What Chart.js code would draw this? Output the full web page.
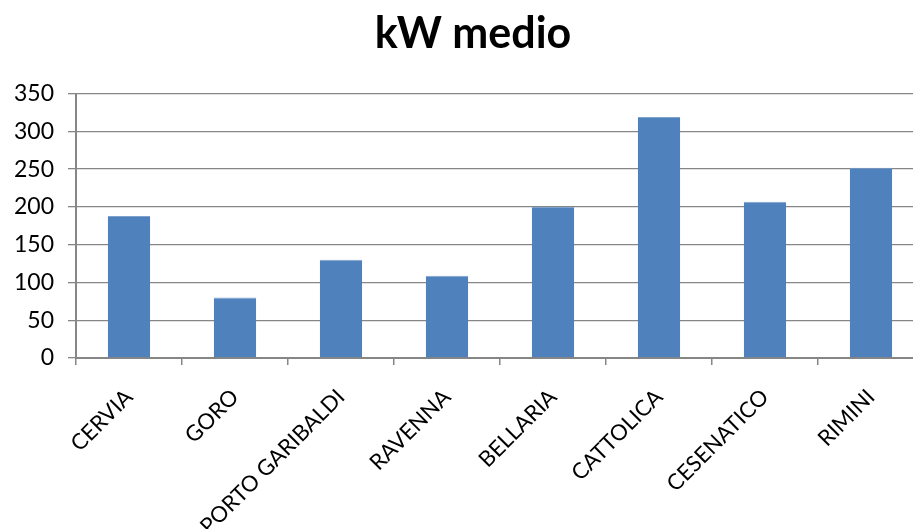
<!DOCTYPE html>
<html>
<head>
<meta charset="utf-8">
<title>kW medio</title>
<script src="https://cdn.jsdelivr.net/npm/chart.js@4.4.0/dist/chart.umd.min.js"></script>
<style>
    html, body { margin: 0; padding: 0; background: #fff; overflow: hidden; }
    #wrap { width: 926px; height: 529px; }
</style>
</head>
<body>
<div id="wrap"><canvas id="kwChart" width="926" height="529"></canvas></div>
<script>
// Mean kW per port
const ports = ['CERVIA', 'GORO', 'PORTO GARIBALDI', 'RAVENNA', 'BELLARIA', 'CATTOLICA', 'CESENATICO', 'RIMINI'];
const kwMedio = [188, 80, 130, 109, 200, 319, 207, 252];

const axisGrey = '#868686';
const barBlue = '#4F81BD';

// centre the title a little right of the canvas middle, over the plot
const titleShift = {
    id: 'titleShift',
    afterLayout(chart) {
        if (chart.titleBlock) chart.titleBlock.left += 22;
    }
};

const ctx = document.getElementById('kwChart').getContext('2d');
new Chart(ctx, {
    type: 'bar',
    data: {
        labels: ports,
        datasets: [{
            label: 'kW medio',
            data: kwMedio,
            backgroundColor: barBlue,
            borderColor: '#7fa2cf',
            borderWidth: { top: 1, left: 0, right: 0, bottom: 0 },
            categoryPercentage: 1,
            barPercentage: 0.4
        }]
    },
    options: {
        responsive: false,
        animation: false,
        layout: { padding: { left: 0, right: 2, top: 0, bottom: 0 } },
        plugins: {
            legend: { display: false },
            tooltip: { enabled: false },
            title: {
                display: true,
                text: 'kW medio',
                color: '#000',
                font: { family: 'Lato', size: 43, weight: 'bold' },
                padding: { top: 8, bottom: 34 }
            }
        },
        scales: {
            x: {
                offset: true,
                grid: {
                    offset: true,
                    drawOnChartArea: false,
                    drawTicks: true,
                    tickLength: 7,
                    color: axisGrey,
                    lineWidth: 1.5
                },
                border: { color: axisGrey, width: 2 },
                ticks: {
                    color: '#000',
                    font: { family: 'Lato', size: 22 },
                    minRotation: 45,
                    maxRotation: 45,
                    autoSkip: false,
                    padding: 19
                },
                afterFit(scale) { scale.height = 171; }
            },
            y: {
                min: 0,
                max: 350,
                ticks: {
                    stepSize: 50,
                    color: '#000',
                    font: { family: 'Lato', size: 23 },
                    padding: 14
                },
                grid: {
                    color: axisGrey,
                    lineWidth: 1.3,
                    tickLength: 8
                },
                border: { color: axisGrey, width: 2 },
                afterFit(scale) { scale.width = 76; }
            }
        }
    },
    plugins: [titleShift]
});
</script>
</body>
</html>
